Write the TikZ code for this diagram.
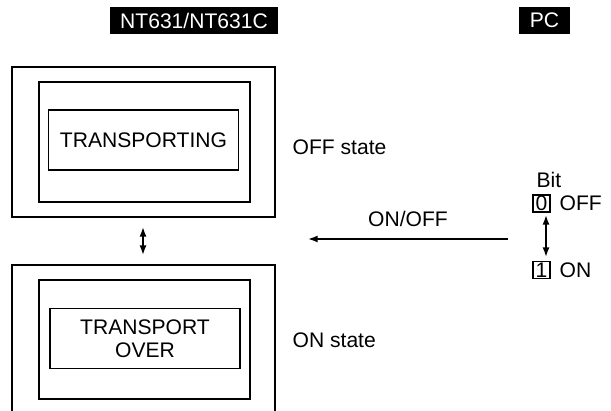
\documentclass[tikz,border=0pt]{standalone}
\usepackage{fontspec}
\setmainfont{Liberation Sans}
\usetikzlibrary{arrows.meta}

\begin{document}
\begin{tikzpicture}[x=0.02cm,y=-0.02cm,line width=.9pt,font=\fontsize{12}{13}\selectfont,
  tag/.style={fill=black,text=white,inner sep=0pt,minimum height=.54cm},
  screen/.style={draw,inner sep=0pt,minimum width=3.8cm,minimum height=1.2cm,align=center},
  bitbox/.style={draw,inner sep=0pt,minimum size=.34cm,line width=.6pt},
  tip/.style={{Latex[length=5.5pt,width=4pt]}-{Latex[length=5.5pt,width=4pt]}}]
  \useasboundingbox (0,0) rectangle (611,411);
  % Headers: the two devices.
  \node[tag,minimum width=3.36cm] (nt) at (194,20.5) {NT631/NT631C};
  \node[tag,minimum width=1.02cm] (pc) at (544.5,20.5) {PC};
  % OFF state: the screen shows the running message.
  \draw (12,67) rectangle (275,217);
  \draw (39,82) rectangle (250,202);
  \node[screen] (moving) at (143.5,140) {TRANSPORTING};
  \node[anchor=west] (offstate) at (286,147) {OFF state};
  % ON state: the screen shows the end message, cut off at the foot.
  \draw (12,411) |- (275,265) -- (275,411);
  \draw (39,280) rectangle (250,399);
  \node[screen] (done) at (145,338.5) {TRANSPORT\\OVER};
  \node[anchor=west] (onstate) at (286,340) {ON state};
  % Switching between the two screens.
  \coordinate (swtop) at (143,227); \coordinate (swbot) at (143,255);
  \draw[tip] (swtop) -- (swbot);
  % The bit in the PC.
  \node[anchor=west] (bit) at (530,180) {Bit};
  \node[bitbox] (zero) at (541.5,203.5) {0};
  \node[anchor=west] (offlabel) at (553,203.5) {OFF};
  \node[bitbox] (one) at (541.5,270) {1};
  \node[anchor=west] (onlabel) at (553,270) {ON};
  \coordinate (bittop) at (546,215); \coordinate (bitbot) at (546,257);
  \draw[tip] (bittop) -- (bitbot);
  % Signal from the PC to the NT.
  \coordinate (sigfrom) at (508,239); \coordinate (sigto) at (308,239);
  \draw[-{Latex[length=5.5pt,width=4pt]}] (sigfrom) -- node[above=3pt] (sig) {ON/OFF} (sigto);
\end{tikzpicture}
\end{document}
